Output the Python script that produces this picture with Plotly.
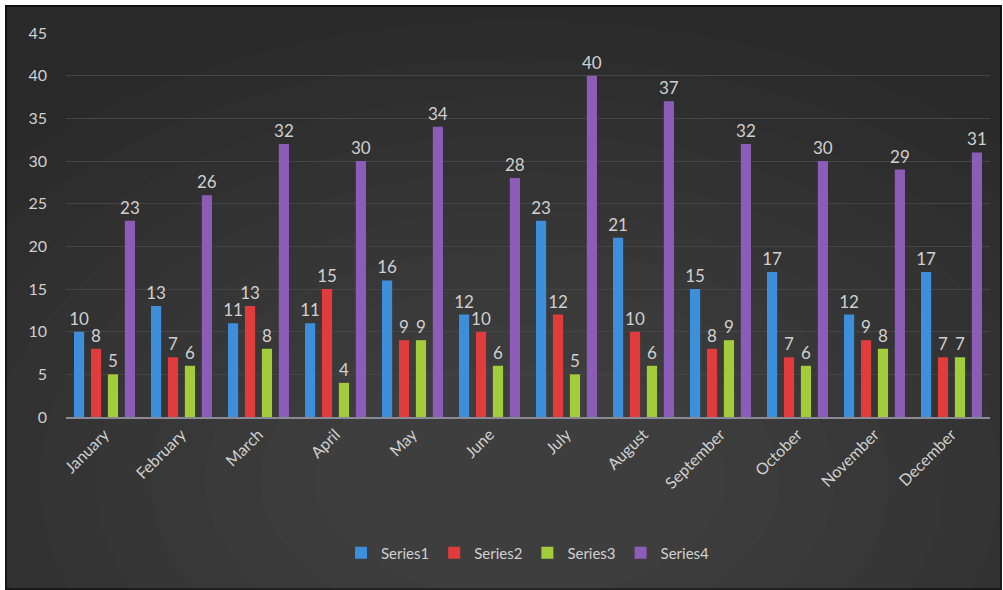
import plotly.graph_objects as go

months = ["January", "February", "March", "April", "May", "June", "July",
          "August", "September", "October", "November", "December"]
series1 = [10, 13, 11, 11, 16, 12, 23, 21, 15, 17, 12, 17]
series2 = [8, 7, 13, 15, 9, 10, 12, 10, 8, 7, 9, 7]
series3 = [5, 6, 8, 4, 9, 6, 5, 6, 9, 6, 8, 7]
series4 = [23, 26, 32, 30, 34, 28, 40, 37, 32, 30, 29, 31]
names = ["Series1", "Series2", "Series3", "Series4"]
colors = ["#3d8fdc", "#e23b3b", "#a2cc3a", "#8c5db8"]

W, H = 1003, 590
L, R, T, B = 66, 13, 33, 173
pw, ph = W - L - R, H - T - B

def px(x):
    return (x - L) / pw

def py(y):
    return (H - B - y) / ph

fig = go.Figure()
for name, vals, c in zip(names, [series1, series2, series3, series4], colors):
    fig.add_trace(go.Bar(
        x=months, y=vals, name=name,
        marker=dict(color=c, line=dict(width=0)),
        text=vals, textposition="outside", constraintext="none",
        textfont=dict(color="#d0d0d0", size=17, family="Lato"),
        cliponaxis=False,
    ))

shapes = [dict(type="rect", xref="paper", yref="paper",
               x0=px(6), x1=px(1001), y0=py(589), y1=py(6),
               fillcolor="#2a2a2a", line=dict(color="#111111", width=2),
               layer="below")]
# soft lighter glow toward the lower centre
cx, cy = 520, 480
for k in range(10):
    rx = 700 - k * 55
    ry = 460 - k * 38
    shapes.append(dict(type="circle", xref="paper", yref="paper",
                       x0=px(cx - rx), x1=px(cx + rx),
                       y0=py(cy + ry), y1=py(cy - ry),
                       fillcolor="rgba(255,255,255,0.012)", line=dict(width=0),
                       layer="below"))

fig.update_layout(
    width=W, height=H,
    margin=dict(l=L, r=R, t=T, b=B),
    paper_bgcolor="white",
    plot_bgcolor="rgba(0,0,0,0)",
    barmode="group", bargap=0.12, bargroupgap=0.4,
    font=dict(family="Lato", color="#d0d0d0", size=15),
    shapes=shapes,
    showlegend=True,
    legend=dict(orientation="h", x=0.5, xanchor="center", y=py(553), yanchor="middle",
                font=dict(size=15, color="#d0d0d0"), bgcolor="rgba(0,0,0,0)",
                itemwidth=30, tracegroupgap=0),
    xaxis=dict(tickangle=-45, showgrid=False, showline=True, linecolor="#8a8a96",
               linewidth=2, ticks="", tickfont=dict(size=16, color="#d0d0d0")),
    yaxis=dict(range=[0, 45], dtick=5, showgrid=True, gridcolor="#454545",
               gridwidth=1, zeroline=False, showline=False, ticks="",
               tickfont=dict(size=16, color="#d0d0d0"), ticklabelstandoff=18),
)

fig.write_html("out.html", config={"displayModeBar": False},
               post_script="document.body.style.margin='0';")
